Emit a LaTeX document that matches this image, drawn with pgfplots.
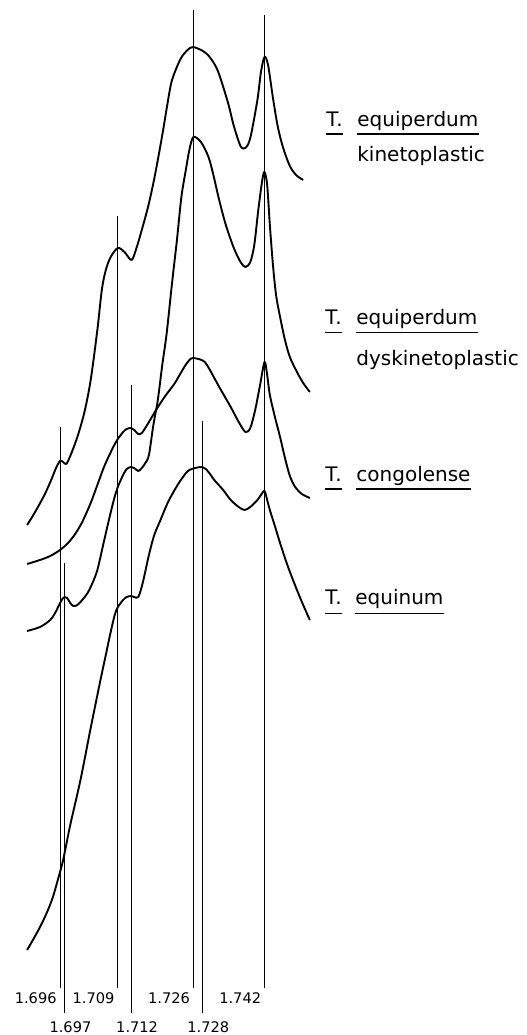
\documentclass[border=0pt]{standalone}
\usepackage{fontspec}
\setmainfont{DejaVu Sans}
\usepackage{pgfplots}
\pgfplotsset{compat=1.18}
\tikzset{
  curve/.style={black, line width=0.95pt, smooth, tension=0.5, line join=round},
  vline/.style={black, line width=0.5pt},
  lab/.style={font=\fontsize{10}{12}\selectfont, inner sep=0pt, anchor=base west},
  dlab/.style={font=\fontsize{7.3}{8}\selectfont, inner sep=0pt},
  uline/.style={line width=0.6pt},
}
\begin{document}
\begin{tikzpicture}
\begin{axis}[
  scale only axis, width=263pt, height=517.5pt,
  xmin=1.68250, xmax=1.80082, ymin=0, ymax=1035,
  hide axis, clip=false,
]
\path (rel axis cs:0,0) rectangle (rel axis cs:1,1);
% T. equiperdum kinetoplastic
\addplot[curve] table {
x y
1.6886 510
1.6904 523
1.6926 541
1.6942 557
1.6951 567
1.6960 574
1.6967 573
1.6974 571
1.6983 579
1.6999 598
1.7015 623
1.7029 655
1.7044 705
1.7054 745
1.7063 765
1.7074 778
1.7090 787
1.7105 783
1.7121 775
1.7132 787
1.7142 802
1.7158 828
1.7170 852
1.7180 875
1.7192 905
1.7202 932
1.7212 955
1.7231 976
1.7247 985
1.7260 988
1.7285 983
1.7300 976
1.7316 963
1.7338 932
1.7351 909
1.7366 889
1.7377 887
1.7388 897
1.7404 935
1.7412 963
1.7420 978
1.7428 970
1.7439 937
1.7450 908
1.7462 887
1.7477 869
1.7491 860
1.7507 855
};
% T. equiperdum dyskinetoplastic
\addplot[curve] table {
x y
1.6886 404
1.6915 408
1.6938 415
1.6949 422
1.6958 430
1.6965 436
1.6970 438
1.6976 437
1.6983 432
1.6990 429
1.6999 430
1.7010 435
1.7022 442
1.7033 452
1.7044 465
1.7058 492
1.7070 515
1.7081 535
1.7090 548
1.7102 560
1.7110 566
1.7120 568
1.7127 567
1.7136 564
1.7144 567
1.7152 572
1.7160 580
1.7170 610
1.7180 635
1.7190 670
1.7200 702
1.7212 752
1.7223 795
1.7233 838
1.7243 865
1.7251 885
1.7260 898
1.7277 893
1.7294 878
1.7305 860
1.7318 835
1.7333 810
1.7351 787
1.7366 773
1.7377 768
1.7388 773
1.7397 790
1.7406 825
1.7415 855
1.7420 863
1.7426 850
1.7432 810
1.7439 770
1.7446 740
1.7455 718
1.7466 695
1.7477 678
1.7493 663
1.7507 652
1.7522 643
};
% T. congolense
\addplot[curve] table {
x y
1.6886 471
1.6915 475
1.6938 479
1.6960 485
1.6978 492
1.6994 501
1.7010 513
1.7029 532
1.7044 550
1.7058 567
1.7070 579
1.7081 589
1.7090 596
1.7102 603
1.7110 606
1.7120 607
1.7127 605
1.7136 601
1.7144 602
1.7156 610
1.7172 622
1.7186 632
1.7200 641
1.7217 651
1.7229 660
1.7241 669
1.7251 675
1.7260 677
1.7283 674
1.7296 666
1.7307 657
1.7322 645
1.7344 628
1.7362 613
1.7377 603
1.7388 607
1.7399 625
1.7410 650
1.7420 673
1.7426 660
1.7432 640
1.7444 617
1.7455 598
1.7466 577
1.7477 559
1.7489 548
1.7504 541
1.7522 537
};
% T. equinum
\addplot[curve] table {
x y
1.6886 85
1.6899 95
1.6915 108
1.6931 123
1.6944 138
1.6955 155
1.6967 175
1.6983 210
1.7006 255
1.7029 307
1.7051 355
1.7063 380
1.7074 403
1.7083 420
1.7090 428
1.7102 435
1.7110 438
1.7120 439
1.7127 438
1.7136 438
1.7146 452
1.7160 480
1.7172 500
1.7186 515
1.7202 532
1.7219 546
1.7235 557
1.7251 565
1.7280 568
1.7294 563
1.7307 555
1.7327 545
1.7344 535
1.7362 528
1.7375 525
1.7388 528
1.7404 535
1.7412 540
1.7420 544
1.7426 535
1.7432 525
1.7444 508
1.7455 492
1.7473 468
1.7493 445
1.7507 430
1.7522 415
};
% reference density lines
\addplot[vline] coordinates {(1.696,47) (1.696,608)};
\addplot[vline] coordinates {(1.697,22) (1.697,472)};
\addplot[vline] coordinates {(1.709,47) (1.709,819)};
\addplot[vline] coordinates {(1.712,22) (1.712,650)};
\addplot[vline] coordinates {(1.726,47) (1.726,1025)};
\addplot[vline] coordinates {(1.728,22) (1.728,614)};
\addplot[vline] coordinates {(1.742,47) (1.742,1020)};
% density labels
\node[dlab, anchor=base east, xshift=-1.5pt] at (axis cs:1.696,32) {1.696};
\node[dlab, anchor=base east, xshift=-1.5pt] at (axis cs:1.709,32) {1.709};
\node[dlab, anchor=base east, xshift=-1.5pt] at (axis cs:1.726,32) {1.726};
\node[dlab, anchor=base east, xshift=-1.5pt] at (axis cs:1.742,32) {1.742};
\node[dlab, anchor=base, xshift=3pt] at (axis cs:1.697,3) {1.697};
\node[dlab, anchor=base, xshift=3pt] at (axis cs:1.712,3) {1.712};
\node[dlab, anchor=base, xshift=3pt] at (axis cs:1.728,3) {1.728};
% curve labels
\node[lab] (t1) at (rel axis cs:0.6198,0.8773) {T.};
\node[lab] (w1) at (rel axis cs:0.6787,0.8773) {equiperdum};
\node[lab] at (rel axis cs:0.6787,0.8435) {kinetoplastic};
\draw[uline] ([yshift=-3.5pt]t1.base west) -- ([yshift=-3.5pt]t1.base east);
\draw[uline] ([yshift=-3.5pt]w1.base west) -- ([yshift=-3.5pt]w1.base east);
\node[lab] (t2) at (rel axis cs:0.6179,0.6860) {T.};
\node[lab] (w2) at (rel axis cs:0.6768,0.6860) {equiperdum};
\node[lab] at (rel axis cs:0.6768,0.6473) {dyskinetoplastic};
\draw[uline] ([yshift=-3.75pt]t2.base west) -- ([yshift=-3.75pt]t2.base east);
\draw[uline] ([yshift=-3.75pt]w2.base west) -- ([yshift=-3.75pt]w2.base east);
\node[lab] (t3) at (rel axis cs:0.6179,0.5343) {T.};
\node[lab] (w3) at (rel axis cs:0.6768,0.5343) {congolense};
\draw[uline] ([yshift=-3.5pt]t3.base west) -- ([yshift=-3.5pt]t3.base east);
\draw[uline] ([yshift=-3.5pt]w3.base west) -- ([yshift=-3.5pt]w3.base east);
\node[lab] (t4) at (rel axis cs:0.6179,0.4155) {T.};
\node[lab] (w4) at (rel axis cs:0.6749,0.4155) {equinum};
\draw[uline] ([yshift=-4.25pt]t4.base west) -- ([yshift=-4.25pt]t4.base east);
\draw[uline] ([yshift=-4.25pt]w4.base west) -- ([yshift=-4.25pt]w4.base east);
\end{axis}
\end{tikzpicture}
\end{document}
